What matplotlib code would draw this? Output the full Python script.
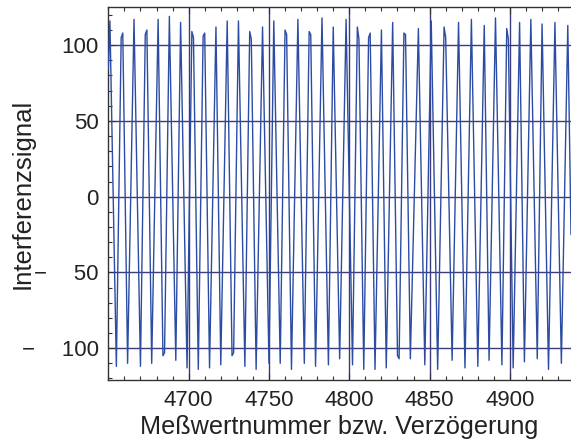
import numpy as np
import matplotlib
matplotlib.use("Agg")
import matplotlib.pyplot as plt
from matplotlib.ticker import MultipleLocator

plt.rcParams['font.family'] = ['Liberation Sans', 'DejaVu Sans']

# Maxima of the interference signal (sample number, value)
peak_x = [4651, 4659, 4666, 4674, 4681, 4688, 4695, 4702, 4710, 4717,
          4724, 4731, 4738, 4746, 4753, 4760, 4768, 4775, 4783, 4790,
          4798, 4805, 4813, 4820, 4827, 4834, 4843, 4851, 4859, 4868,
          4876, 4884, 4891, 4898, 4906, 4913, 4920, 4928, 4936]
peak_y = [116, 108, 117, 110, 117, 119, 115, 109, 108, 112,
          116, 116, 109, 112, 116, 110, 117, 109, 118, 112,
          117, 112, 108, 110, 115, 108, 111, 116, 112, 115,
          117, 113, 118, 111, 115, 117, 114, 115, 113]

# Minima
trough_x = [4655, 4662, 4670, 4677, 4684, 4692, 4699, 4706, 4713, 4720,
            4727, 4735, 4742, 4750, 4757, 4764, 4772, 4779, 4787, 4794,
            4802, 4809, 4816, 4823, 4830, 4838, 4847, 4855, 4864, 4872,
            4880, 4887, 4895, 4902, 4909, 4917, 4924, 4932]
trough_y = [-112, -110, -112, -110, -105, -108, -113, -114, -113, -111,
            -105, -112, -114, -110, -110, -114, -110, -112, -111, -107,
            -111, -114, -114, -113, -105, -107, -111, -114, -108, -113,
            -112, -108, -111, -113, -109, -107, -114, -110]

# Neighbouring samples close to an extremum
shoulder_x = [4658, 4673, 4703, 4709, 4739, 4761, 4776, 4806, 4812, 4835,
              4860, 4899, 4685, 4728, 4831]
shoulder_y = [105, 107, 105, 106, 104, 107, 107, 104, 105, 107,
              105, 104, -103, -103, -107]

# First and last samples of the record
edge_x = [4650, 4937, 4938]
edge_y = [84, 45, -25]

x_ticks = [4700, 4750, 4800, 4850, 4900]
y_ticks = [-100, -50, 0, 50, 100]

x = np.array(peak_x + trough_x + shoulder_x + edge_x)
y = np.array(peak_y + trough_y + shoulder_y + edge_y)
order = np.argsort(x)
x, y = x[order], y[order]

text_col = '#222222'
fig = plt.figure(figsize=(5.71, 4.42), dpi=100)
ax = fig.add_axes([0.1897, 0.1403, 0.8103, 0.8432])

ax.plot(x, y, color='#2c4ca4', lw=1.0, zorder=3)

ax.set_xlim(4650, 4938)
ax.set_ylim(-121, 125)
ax.set_xticks(x_ticks)
ax.set_yticks(y_ticks)
# negative labels: minus sign set apart from the digits
ax.set_yticklabels([('\u2212\u2003\u2009' + str(-v)) if v < 0 else str(v) for v in y_ticks])
ax.xaxis.set_minor_locator(MultipleLocator(10))
ax.yaxis.set_minor_locator(MultipleLocator(10))
ax.grid(True, which='major', color='#3c3c7c', lw=1.0)
ax.set_axisbelow(True)

ax.tick_params(which='both', direction='in', top=True, right=False,
               color='#333333', labelcolor=text_col)
ax.tick_params(which='major', length=5, width=0.8, labelsize=16, pad=7)
ax.tick_params(which='minor', length=3, width=0.8)

for side in ['top', 'left', 'bottom']:
    ax.spines[side].set_color('#333333')
    ax.spines[side].set_linewidth(1.0)
ax.spines['right'].set_visible(False)

ax.set_xlabel('Meßwertnummer bzw. Verzögerung', fontsize=18.2, color=text_col, labelpad=3)
ax.set_ylabel('Interferenzsignal', fontsize=18.5, color=text_col)
ax.yaxis.set_label_coords(-0.16, 0.5)

fig.savefig('out.png', dpi=100)
